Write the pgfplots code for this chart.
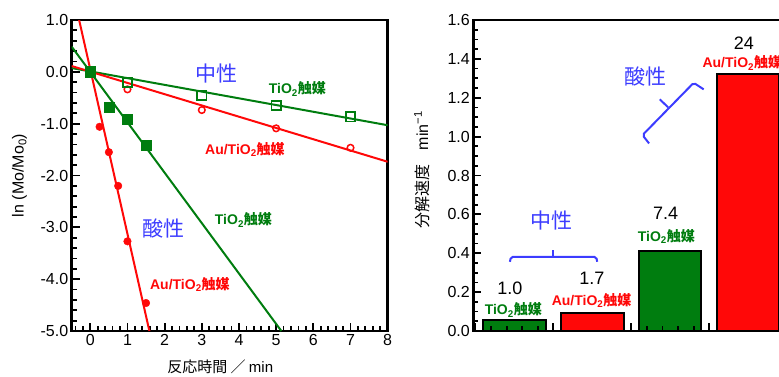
\documentclass[border=0pt]{standalone}
\usepackage{fontspec}
\setmainfont{Liberation Sans}
\newfontfamily\cjk{Noto Sans CJK JP}
\usepackage{pgfplots}
\pgfplotsset{compat=1.18}
\definecolor{mygreen}{RGB}{0,125,15}
\definecolor{myred}{RGB}{255,8,8}
\definecolor{myblue}{RGB}{60,60,255}
\newcommand{\tio}{{\bfseries TiO\textsubscript{2}\cjk 触媒}}
\newcommand{\autio}{{\bfseries Au/TiO\textsubscript{2}\cjk 触媒}}
\pgfplotsset{
  common/.style={
    anchor=south west, width=316pt, height=311pt, scale only axis,
    axis line style={line width=2.6pt},
    every tick/.style={black, line width=1.8pt},
    major tick length=8pt, minor tick length=5pt,
    tick align=inside, tick pos=left,
    ticklabel style={font=\fontsize{16}{16}\selectfont},
    /pgf/number format/assume math mode=true,
    yticklabel style={/pgf/number format/.cd, fixed, fixed zerofill, precision=1},
  }
}
\begin{document}
\begin{tikzpicture}
\path[use as bounding box, clip] (0,0) rectangle (779pt,376pt);
% ---------------- left plot
\begin{axis}[common, at={(71.7pt,45pt)},
  xmin=-0.5, xmax=8, ymin=-5, ymax=1,
  xtick={0,...,8}, minor xtick={-0.4,-0.2,...,8},
  ytick={-5,...,1}, minor y tick num=4,
  xticklabel style={/pgf/number format/precision=0},
  xlabel={{\cjk 反応時間 ／ }min},
  xlabel style={font=\fontsize{15}{15}\selectfont, at={(axis description cs:0.47,-0.115)}, anchor=center},
  ylabel={ln (Mo/Mo\textsubscript{0})},
  ylabel style={font=\fontsize{16}{16}\selectfont, at={(axis description cs:-0.165,0.5)}, anchor=center},
]
% fitted lines
\addplot[mygreen, line width=2pt] coordinates {(-0.5,0.073) (8,-1.03)};
\addplot[myred, line width=2pt] coordinates {(-0.5,0.112) (8,-1.735)};
\addplot[mygreen, line width=2pt] coordinates {(-0.5,0.485) (5.14,-5)};
\addplot[myred, line width=2pt] coordinates {(-0.30,1.0) (1.59,-5)};
% data
\addplot[only marks, mark=o, mark size=3.3pt, myred, line width=1.5pt] coordinates {(0,0) (1,-0.338) (3,-0.737) (5,-1.09) (7,-1.465)};
\addplot[only marks, mark=square, mark size=4.6pt, mygreen, line width=1.7pt] coordinates {(0,0) (1,-0.203) (3,-0.461) (5,-0.654) (7,-0.867)};
\addplot[only marks, mark=*, mark size=3.8pt, myred, mark options={fill=myred, draw=myred}] coordinates {(0,0) (0.25,-1.06) (0.5,-1.55) (0.75,-2.20) (1,-3.27) (1.5,-4.46)};
\addplot[only marks, mark=square*, mark size=5pt, mygreen, mark options={fill=mygreen, draw=mygreen}] coordinates {(0,0) (0.5,-0.685) (1,-0.911) (1.5,-1.413)};
% annotations
\node[font=\cjk\fontsize{21}{21}\selectfont, text=myblue] at (axis cs:3.39,-0.03) {中性};
\node[font=\fontsize{14}{14}\selectfont, text=mygreen] at (axis cs:5.57,-0.33) {\tio};
\node[font=\fontsize{14}{14}\selectfont, text=myred] at (axis cs:4.16,-1.50) {\autio};
\node[font=\cjk\fontsize{21}{21}\selectfont, text=myblue] at (axis cs:1.97,-3.02) {酸性};
\node[font=\fontsize{14}{14}\selectfont, text=mygreen] at (axis cs:4.12,-2.86) {\tio};
\node[font=\fontsize{14}{14}\selectfont, text=myred] at (axis cs:2.68,-4.10) {\autio};
\end{axis}
% ---------------- right plot (green bars, axis on top)
\begin{axis}[common, at={(473.3pt,45pt)}, axis on top,
  xmin=-0.528, xmax=3.528, ymin=0, ymax=1.6,
  xtick={-0.5,0.5,1.5,2.5,3.5}, xticklabels={},
  minor xtick={-0.3,-0.1,0.1,0.3,0.7,0.9,1.1,1.3,1.7,1.9,2.1,2.3,2.7,2.9,3.1,3.3},
  ytick={0,0.2,...,1.6}, minor y tick num=3,
  ylabel={{\cjk 分解速度}\hspace{14pt}min\textsuperscript{−1}},
  ylabel style={font=\fontsize{16}{16}\selectfont, at={(axis description cs:-0.163,0.519)}, anchor=center},
]
\addplot[ybar, bar width=0.8, fill=mygreen, draw=black, line width=2pt] coordinates {(0,0.055) (2,0.41)};
\end{axis}
% ---------------- right plot overlay (red bars, annotations)
\begin{axis}[common, at={(473.3pt,45pt)}, hide axis,
  xmin=-0.528, xmax=3.528, ymin=0, ymax=1.6, clip=false]
\addplot[ybar, bar width=0.8, fill=myred, draw=black, line width=2pt] coordinates {(1,0.094) (3,1.32)};
\node[font=\fontsize{18}{18}\selectfont] at (axis cs:-0.058,0.22) {1.0};
\node[font=\fontsize{14}{14}\selectfont, text=mygreen] at (axis cs:-0.015,0.108) {\tio};
\node[font=\fontsize{18}{18}\selectfont] at (axis cs:0.994,0.271) {1.7};
\node[font=\fontsize{14}{14}\selectfont, text=myred] at (axis cs:0.99,0.159) {\autio};
\node[font=\fontsize{18}{18}\selectfont] at (axis cs:1.94,0.605) {7.4};
\node[font=\fontsize{14}{14}\selectfont, text=mygreen] at (axis cs:1.95,0.485) {\tio};
\node[font=\fontsize{18}{18}\selectfont] at (axis cs:2.945,1.48) {24};
\node[font=\fontsize{14}{14}\selectfont, text=myred] at (axis cs:2.925,1.379) {\autio};
\node[font=\cjk\fontsize{21}{21}\selectfont, text=myblue] at (axis cs:0.477,0.567) {中性};
\node[font=\cjk\fontsize{21}{21}\selectfont, text=myblue] at (axis cs:1.677,1.308) {酸性};
\draw[myblue, line width=2pt, rounded corners=2pt] (axis cs:-0.058,0.356) -- (axis cs:-0.045,0.382) -- (axis cs:1.050,0.382) -- (axis cs:1.062,0.356);
\draw[myblue, line width=2pt] (axis cs:0.497,0.382) -- (axis cs:0.497,0.417);
\draw[myblue, line width=2pt, rounded corners=2pt] (axis cs:1.728,0.965) -- (axis cs:1.644,1.008) -- (axis cs:2.301,1.277) -- (axis cs:2.429,1.243);
\draw[myblue, line width=2pt] (axis cs:1.972,1.151) -- (axis cs:1.865,1.192);
\end{axis}
\end{tikzpicture}
\end{document}
